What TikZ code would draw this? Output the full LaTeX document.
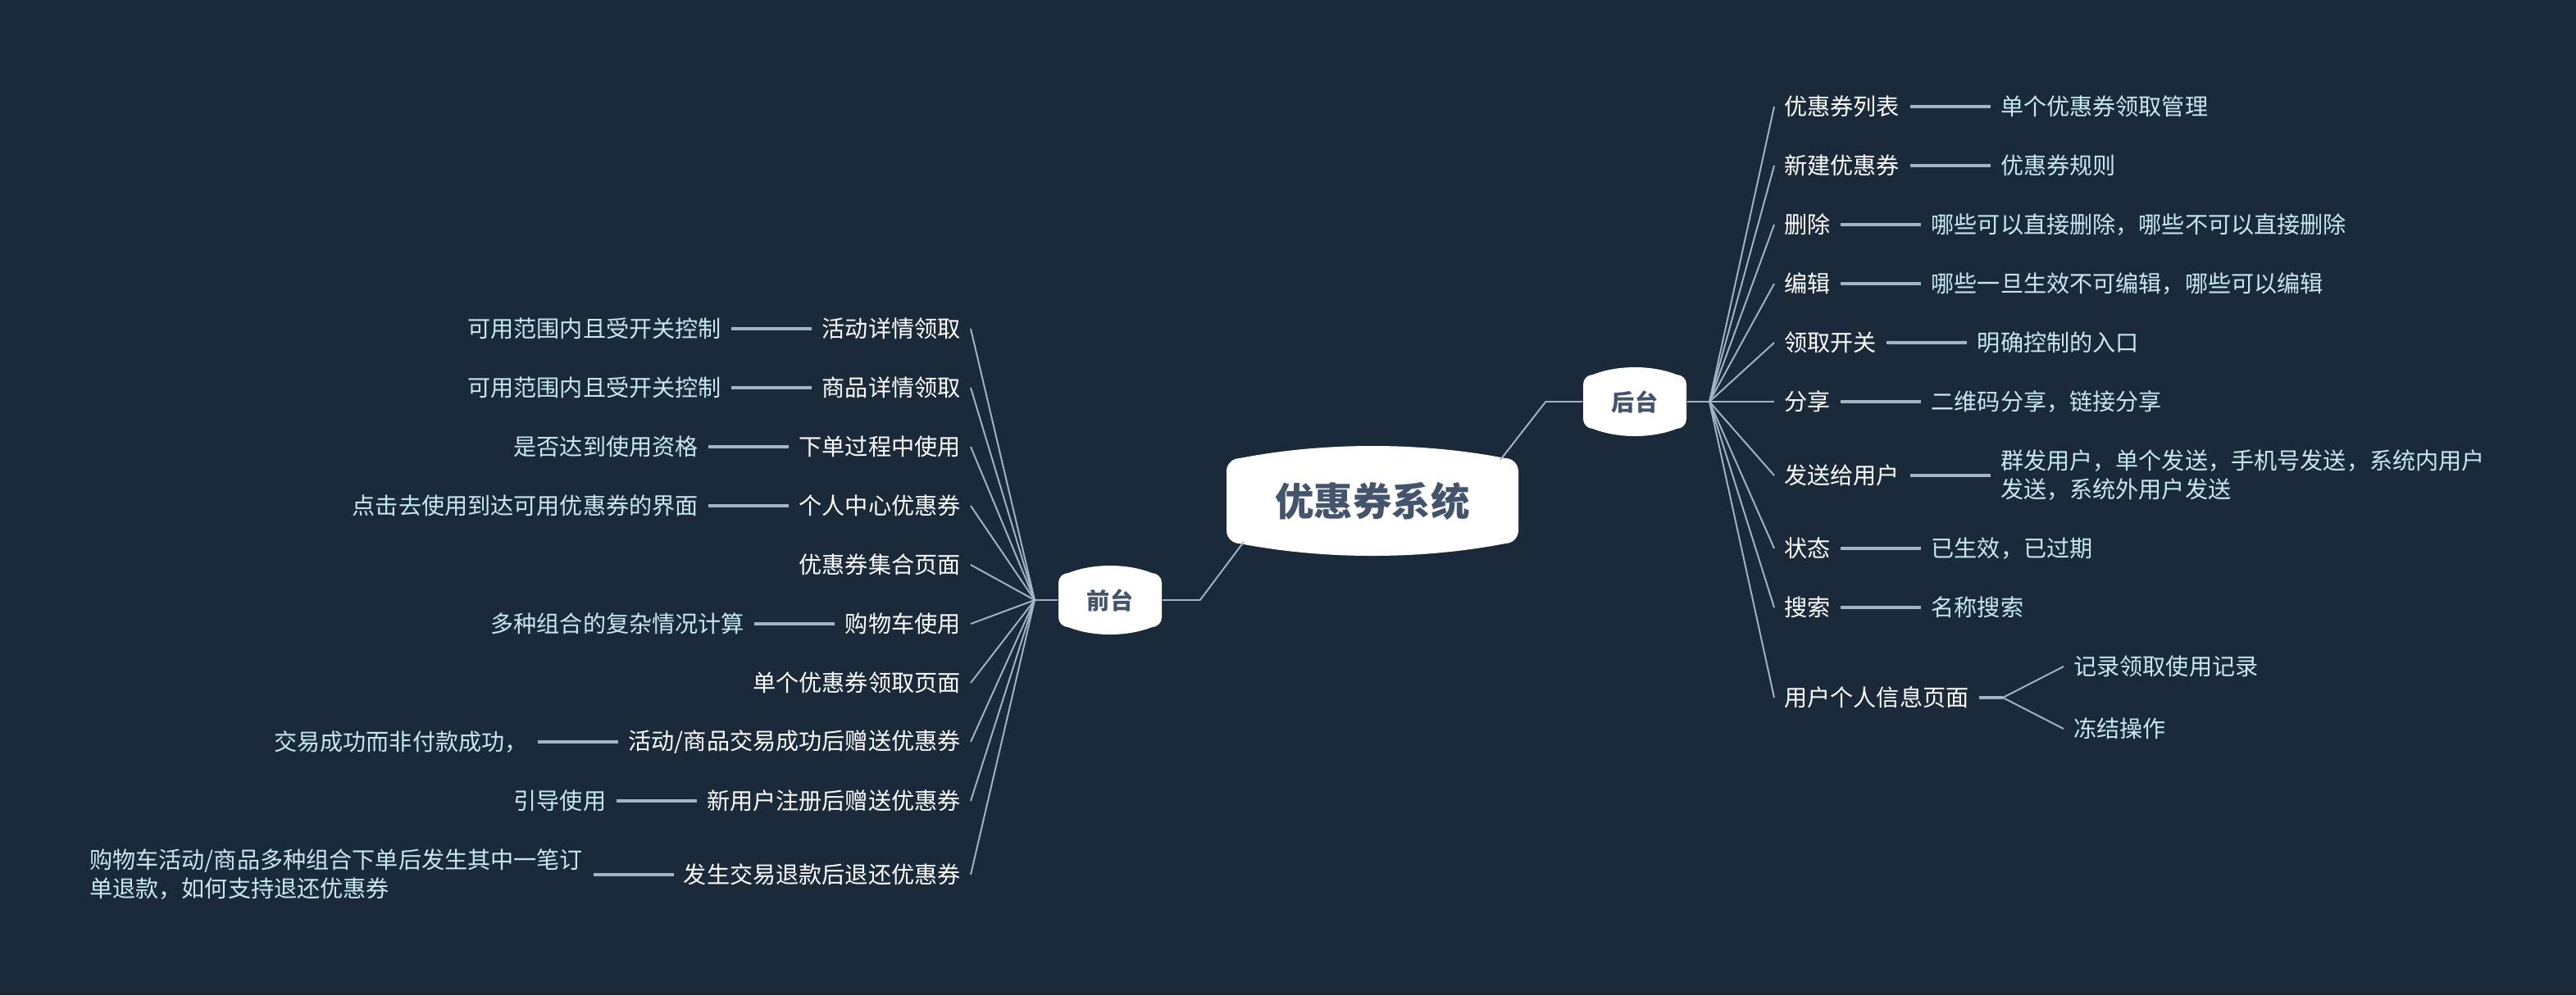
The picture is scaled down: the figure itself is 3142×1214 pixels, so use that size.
\documentclass[tikz,border=0pt]{standalone}
\usepackage{fontspec}
\setmainfont{Noto Sans CJK SC}
\definecolor{fond}{RGB}{26,42,58}
\definecolor{trait}{RGB}{165,180,196}
\definecolor{cyanclair}{RGB}{200,232,240}
\definecolor{ardoise}{RGB}{68,84,108}
\usepackage{tikz}
\usetikzlibrary{positioning,calc,backgrounds}

% forme blanche bombee : noeud, demi-largeur, demi-hauteur, bombement, rayon
\newcommand{\bulle}[5]{%
  \fill[white,rounded corners={#5*0.01cm}] ($(#1)+(-#2,-#3)$) rectangle ($(#1)+(#2,#3)$);
  \fill[white] ($(#1)+(-#2+#5,-#3)$) .. controls ($(#1)+(-#2/3,-#3-4*#4/3)$) and ($(#1)+(#2/3,-#3-4*#4/3)$) .. ($(#1)+(#2-#5,-#3)$) -- cycle;
  \fill[white] ($(#1)+(-#2+#5,#3)$) .. controls ($(#1)+(-#2/3,#3+4*#4/3)$) and ($(#1)+(#2/3,#3+4*#4/3)$) .. ($(#1)+(#2-#5,#3)$) -- cycle;}

\begin{document}
\begin{tikzpicture}[x=0.01cm,y=-0.01cm,
  etiq/.style={text=white,font=\fontsize{8}{10}\selectfont},
  detail/.style={text=cyanclair,font=\fontsize{8}{10}\selectfont,align=left},
  lien/.style={draw=trait,line width=0.55pt},
  liaison/.style={draw=trait,line width=0.9pt},
  bloc/.style={text=ardoise,font=\bfseries\fontsize{8}{10}\selectfont,minimum width=1.26cm,minimum height=0.66cm,inner sep=0pt}]
  \useasboundingbox (0,0) rectangle (3142,1214);
  \begin{pgfonlayer}{background}
    \fill[fond] (0,0) rectangle (3142,1214);
  \end{pgfonlayer}

  \node[text=ardoise,font=\bfseries\fontsize{13.5}{16}\selectfont] (sys) at (1674,611) {优惠券系统};
  \node[bloc] (hou) at (1994,490) {后台};
  \node[bloc] (qian) at (1354,732) {前台};

  % cote droit : arriere-plan
  \coordinate (hubD) at (2085,490);
  \node[etiq,anchor=west] (d1) at (2164,130) {优惠券列表};
  \node[etiq,anchor=west] (d2) at (2164,202) {新建优惠券};
  \node[etiq,anchor=west] (d3) at (2164,274) {删除};
  \node[etiq,anchor=west] (d4) at (2164,346) {编辑};
  \node[etiq,anchor=west] (d5) at (2164,418) {领取开关};
  \node[etiq,anchor=west] (d6) at (2164,490) {分享};
  \node[etiq,anchor=west] (d7) at (2164,580) {发送给用户};
  \node[etiq,anchor=west] (d8) at (2164,669) {状态};
  \node[etiq,anchor=west] (d9) at (2164,741) {搜索};
  \node[etiq,anchor=west] (d10) at (2164,851) {用户个人信息页面};

  \node[detail,right=0.98cm of d1] (dd1) {单个优惠券领取管理};
  \node[detail,right=0.98cm of d2] (dd2) {优惠券规则};
  \node[detail,right=0.98cm of d3] (dd3) {哪些可以直接删除，哪些不可以直接删除};
  \node[detail,right=0.98cm of d4] (dd4) {哪些一旦生效不可编辑，哪些可以编辑};
  \node[detail,right=0.98cm of d5] (dd5) {明确控制的入口};
  \node[detail,right=0.98cm of d6] (dd6) {二维码分享，链接分享};
  \node[detail,right=0.98cm of d7] (dd7) {群发用户，单个发送，手机号发送，系统内用户\\发送，系统外用户发送};
  \node[detail,right=0.98cm of d8] (dd8) {已生效，已过期};
  \node[detail,right=0.98cm of d9] (dd9) {名称搜索};
  \coordinate (f10) at ($(d10.east)+(29,0)$);
  \node[detail,anchor=west] (e1) at (2517,813) {记录领取使用记录};
  \node[detail,anchor=west] (e2) at (2517,889) {冻结操作};

  % cote gauche : front
  \coordinate (hubG) at (1262,732);
  \node[etiq,anchor=east] (g1) at (1184,401) {活动详情领取};
  \node[etiq,anchor=east] (g2) at (1184,473) {商品详情领取};
  \node[etiq,anchor=east] (g3) at (1184,545) {下单过程中使用};
  \node[etiq,anchor=east] (g4) at (1184,617) {个人中心优惠券};
  \node[etiq,anchor=east] (g5) at (1184,689) {优惠券集合页面};
  \node[etiq,anchor=east] (g6) at (1184,761) {购物车使用};
  \node[etiq,anchor=east] (g7) at (1184,833) {单个优惠券领取页面};
  \node[etiq,anchor=east] (g8) at (1184,905) {活动/商品交易成功后赠送优惠券};
  \node[etiq,anchor=east] (g9) at (1184,977) {新用户注册后赠送优惠券};
  \node[etiq,anchor=east] (g10) at (1184,1067) {发生交易退款后退还优惠券};

  \node[detail,left=0.98cm of g1] (gg1) {可用范围内且受开关控制};
  \node[detail,left=0.98cm of g2] (gg2) {可用范围内且受开关控制};
  \node[detail,left=0.98cm of g3] (gg3) {是否达到使用资格};
  \node[detail,left=0.98cm of g4] (gg4) {点击去使用到达可用优惠券的界面};
  \node[detail,left=0.98cm of g6] (gg6) {多种组合的复杂情况计算};
  \node[detail,left=0.98cm of g8] (gg8) {交易成功而非付款成功，};
  \node[detail,left=0.98cm of g9] (gg9) {引导使用};
  \node[detail,left=0.98cm of g10] (gg10) {购物车活动/商品多种组合下单后发生其中一笔订\\单退款，如何支持退还优惠券};

  \draw[lien] ($(sys)+(156,-50)$) -- ($(hou.west)+(-45,0)$) -- (hou.west);
  \draw[lien] ($(sys)+(-157,50)$) -- ($(qian.east)+(46,0)$) -- (qian.east);

  \draw[lien] (hou.east) -- (hubD);
  \foreach \i in {1,...,10} \draw[lien] (hubD) -- (d\i.west);
  \foreach \i in {1,...,9} \draw[liaison] (d\i) -- (dd\i);
  \draw[liaison] (d10) -- (f10);
  \draw[lien] (f10) -- (e1.west) (f10) -- (e2.west);

  \draw[lien] (qian.west) -- (hubG);
  \foreach \i in {1,...,10} \draw[lien] (hubG) -- (g\i.east);
  \foreach \i in {1,2,3,4,6,8,9,10} \draw[liaison] (g\i) -- (gg\i);

  \begin{pgfonlayer}{background}
    \bulle{sys}{178}{52}{15}{16}
    \bulle{hou}{63}{33}{9}{12}
    \bulle{qian}{63}{33}{9}{12}
  \end{pgfonlayer}
\end{tikzpicture}
\end{document}
